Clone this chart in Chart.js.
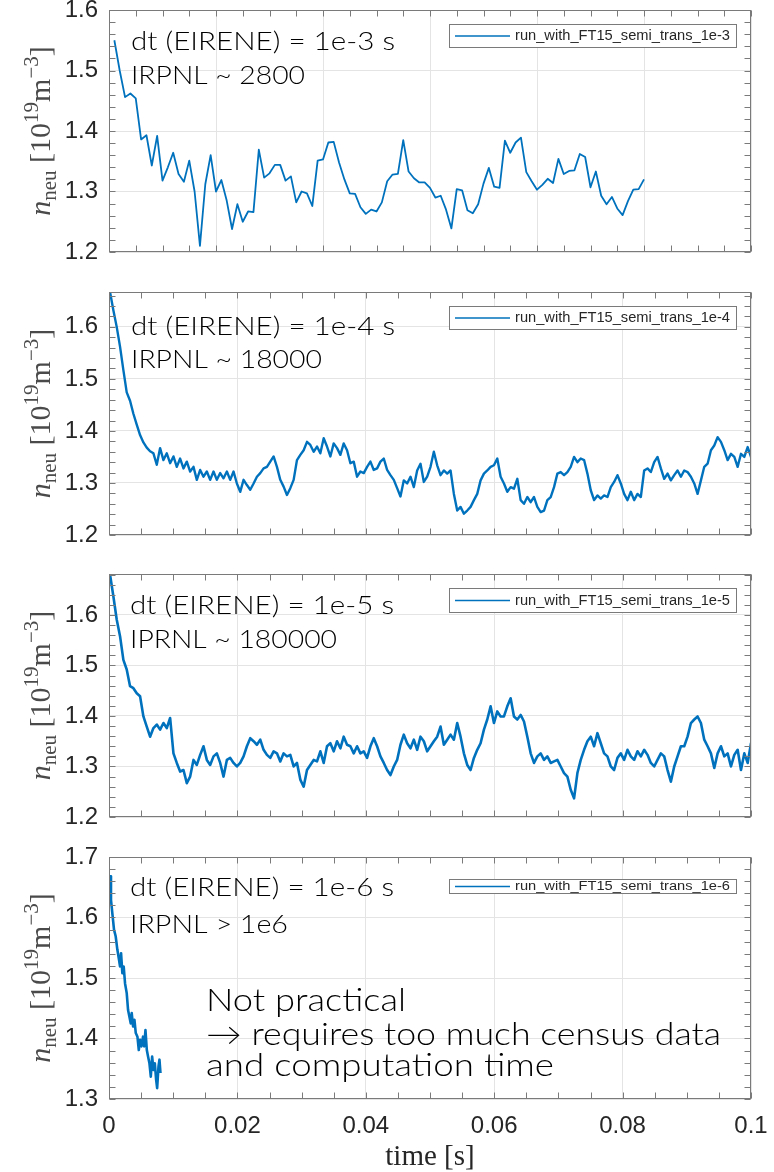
<!DOCTYPE html>
<html>
<head>
<meta charset="utf-8">
<title>n_neu vs time, EIRENE time step scan</title>
<script src="https://cdn.jsdelivr.net/npm/chart.js@4.4.1/dist/chart.umd.min.js"></script>
<style>
  html, body { margin: 0; padding: 0; background: #fff; }
  #wrap { position: relative; width: 774px; height: 1172px; }
  canvas { position: absolute; left: 0; }
</style>
</head>
<body>
<div id="wrap">
  <canvas id="run1e3" width="774" height="280" style="top:0"></canvas>
  <canvas id="run1e4" width="774" height="280" style="top:280px"></canvas>
  <canvas id="run1e5" width="774" height="280" style="top:560px"></canvas>
  <canvas id="run1e6" width="774" height="332" style="top:840px"></canvas>
</div>
<script>
'use strict';

// ---- data -------------------------------------------------------------

var runLabels = [
  'run_with_FT15_semi_trans_1e-3',
  'run_with_FT15_semi_trans_1e-4',
  'run_with_FT15_semi_trans_1e-5',
  'run_with_FT15_semi_trans_1e-6'
];

// dt = 1e-3 s, one value per ms starting at t = 1 ms
var nNeu1e3 = [
  1.550, 1.500, 1.456, 1.462, 1.454, 1.386, 1.393, 1.343, 1.392, 1.318,
  1.340, 1.364, 1.329, 1.316, 1.351, 1.300, 1.210, 1.312, 1.360, 1.300,
  1.319, 1.285, 1.238, 1.279, 1.250, 1.267, 1.266, 1.369, 1.323, 1.330,
  1.344, 1.344, 1.318, 1.325, 1.282, 1.300, 1.297, 1.276, 1.351, 1.353,
  1.381, 1.382, 1.348, 1.320, 1.297, 1.296, 1.274, 1.263, 1.270, 1.267,
  1.282, 1.317, 1.328, 1.329, 1.385, 1.333, 1.322, 1.315, 1.315, 1.306,
  1.290, 1.293, 1.270, 1.239, 1.304, 1.302, 1.269, 1.264, 1.279, 1.313,
  1.339, 1.308, 1.306, 1.384, 1.364, 1.381, 1.389, 1.332, 1.317, 1.303,
  1.311, 1.321, 1.314, 1.354, 1.329, 1.334, 1.335, 1.362, 1.357, 1.307,
  1.333, 1.293, 1.279, 1.291, 1.272, 1.261, 1.284, 1.303, 1.304, 1.320
];

// dt = 1e-4 s, thinned to one value every 0.52 ms
var nNeu1e4 = [
  1.667, 1.632, 1.600, 1.562, 1.517, 1.474, 1.458, 1.433, 1.412, 1.392,
  1.378, 1.368, 1.361, 1.357, 1.335, 1.367, 1.344, 1.357, 1.338, 1.351,
  1.331, 1.347, 1.328, 1.341, 1.322, 1.331, 1.306, 1.325, 1.312, 1.322,
  1.306, 1.322, 1.306, 1.319, 1.309, 1.322, 1.306, 1.322, 1.299, 1.283,
  1.306, 1.296, 1.287, 1.299, 1.312, 1.319, 1.328, 1.331, 1.341, 1.351,
  1.331, 1.306, 1.293, 1.277, 1.290, 1.306, 1.344, 1.354, 1.363, 1.379,
  1.373, 1.360, 1.370, 1.357, 1.386, 1.370, 1.351, 1.376, 1.367, 1.354,
  1.376, 1.363, 1.338, 1.341, 1.312, 1.322, 1.319, 1.331, 1.341, 1.325,
  1.328, 1.341, 1.347, 1.325, 1.315, 1.306, 1.290, 1.274,
  1.305, 1.299, 1.312, 1.292, 1.324, 1.337, 1.302, 1.312, 1.331, 1.360,
  1.334, 1.315, 1.324, 1.318, 1.324, 1.279, 1.247, 1.254, 1.241, 1.247,
  1.254, 1.267, 1.279, 1.305, 1.318, 1.324, 1.331, 1.334, 1.347, 1.312,
  1.299, 1.283, 1.292, 1.289, 1.308, 1.267, 1.260, 1.273, 1.263, 1.273,
  1.254, 1.244, 1.247, 1.267, 1.273, 1.292, 1.318, 1.321, 1.315, 1.321,
  1.331, 1.350, 1.340, 1.347, 1.344, 1.318, 1.286, 1.267, 1.276, 1.270,
  1.276, 1.273, 1.292, 1.302, 1.315, 1.299, 1.279, 1.267, 1.283, 1.267,
  1.279, 1.273, 1.324, 1.328, 1.321, 1.340, 1.350, 1.328, 1.308, 1.318,
  1.305, 1.315, 1.324, 1.312, 1.324, 1.321, 1.312, 1.299, 1.279, 1.305,
  1.331, 1.337, 1.363, 1.372, 1.388, 1.379, 1.363, 1.344, 1.356, 1.350,
  1.331, 1.356, 1.350, 1.369, 1.350, 1.321
];

// dt = 1e-5 s, same thinning as above
var nNeu1e5 = [
  1.680, 1.637, 1.591, 1.558, 1.511, 1.492, 1.459, 1.455, 1.445, 1.439,
  1.399, 1.379, 1.359, 1.376, 1.383, 1.373, 1.386, 1.376, 1.396, 1.326,
  1.307, 1.290, 1.293, 1.267, 1.280, 1.313, 1.303, 1.323, 1.340, 1.313,
  1.303, 1.320, 1.326, 1.307, 1.280, 1.313, 1.317, 1.307, 1.300, 1.307,
  1.320, 1.340, 1.356, 1.350, 1.343, 1.353, 1.333, 1.323, 1.317, 1.330,
  1.326, 1.310, 1.326, 1.320, 1.323, 1.300, 1.307, 1.274, 1.260, 1.293,
  1.303, 1.313, 1.310, 1.330, 1.307, 1.340, 1.346, 1.330, 1.350, 1.336,
  1.359, 1.343, 1.340, 1.326, 1.340, 1.326, 1.330, 1.317, 1.340, 1.356,
  1.340, 1.320, 1.307, 1.293, 1.283, 1.300, 1.313, 1.343,
  1.363, 1.346, 1.336, 1.353, 1.333, 1.359, 1.350, 1.330, 1.340, 1.350,
  1.359, 1.379, 1.343, 1.353, 1.363, 1.353, 1.386, 1.359, 1.326, 1.303,
  1.293, 1.317, 1.333, 1.346, 1.373, 1.393, 1.419, 1.386, 1.409, 1.399,
  1.399, 1.419, 1.435, 1.399, 1.393, 1.402, 1.389, 1.359, 1.326, 1.307,
  1.320, 1.326, 1.313, 1.320, 1.307, 1.310, 1.313, 1.300, 1.287, 1.280,
  1.254, 1.237, 1.287, 1.313, 1.333, 1.350, 1.359, 1.340, 1.366, 1.346,
  1.326, 1.320, 1.300, 1.293, 1.317, 1.326, 1.313, 1.333, 1.320, 1.313,
  1.330, 1.320, 1.333, 1.323, 1.307, 1.300, 1.313, 1.326, 1.320, 1.293,
  1.270, 1.300, 1.320, 1.340, 1.340, 1.359, 1.386, 1.393, 1.399, 1.386,
  1.353, 1.340, 1.326, 1.297, 1.326, 1.340, 1.320, 1.326, 1.300, 1.323,
  1.333, 1.293, 1.326, 1.307, 1.346, 1.333
];

// dt = 1e-6 s, the run stops after ~8 ms
var time1e6 = [
  0, 0.00016, 0.00031, 0.00057, 0.00078, 0.00104, 0.0013, 0.00156, 0.00172, 0.00188,
  0.00208, 0.00229, 0.0025, 0.00276, 0.00297, 0.00318, 0.00339, 0.00354, 0.00375, 0.00396,
  0.00417, 0.00443, 0.00464, 0.00484, 0.00505, 0.0053, 0.00547, 0.00568, 0.00589, 0.00609,
  0.0063, 0.00651, 0.00672, 0.00693, 0.00714, 0.00734, 0.0075, 0.00771, 0.00786, 0.00802
];
var nNeu1e6 = [
  1.662, 1.668, 1.629, 1.602, 1.580, 1.569, 1.547, 1.530, 1.519, 1.541,
  1.508, 1.519, 1.491, 1.475, 1.447, 1.436, 1.425, 1.442, 1.420, 1.431,
  1.409, 1.403, 1.381, 1.398, 1.387, 1.403, 1.387, 1.414, 1.381, 1.370,
  1.359, 1.337, 1.370, 1.348, 1.359, 1.332, 1.318, 1.354, 1.365, 1.343
];

// ---- helpers ----------------------------------------------------------

var BLUE = '#0072BD';
var EDGE = '#7a7a7a';
var GRID = '#e4e4e4';
var TEXT = '#262626';
var SANS = '"Liberation Sans", Arial, sans-serif';
var SERIF = '"Liberation Serif", "Times New Roman", serif';
var NOTE_FONT = '300 {size}px Lato, "Open Sans", sans-serif';

function uniform(values, t0, dt) {
  return values.map(function (v, i) { return { x: t0 + i * dt, y: v }; });
}

function paired(times, values) {
  return values.map(function (v, i) { return { x: times[i], y: v }; });
}

// draw text squeezed/stretched horizontally to a given width
function fitText(ctx, text, x, y, width) {
  var w = ctx.measureText(text).width;
  ctx.save();
  ctx.translate(x, y);
  ctx.scale(width / w, 1);
  ctx.fillText(text, 0, 0);
  ctx.restore();
}

function stepsIn(min, max, step) {
  var out = [];
  var first = Math.ceil(min / step - 1e-6);
  for (var k = first; k * step <= max + 1e-9; k++) out.push(k * step);
  return out;
}

// closed box with inward ticks on all four sides
function boxTicks(xMinor, yMinor) {
  return {
    id: 'boxTicks',
    afterDraw: function (chart) {
      var ctx = chart.ctx, a = chart.chartArea;
      var xs = chart.scales.x, ys = chart.scales.y;
      var len = 6;
      var l = Math.round(a.left) + 0.5, r = Math.round(a.right) - 0.5;
      var t = Math.round(a.top) + 0.5, b = Math.round(a.bottom) - 0.5;
      ctx.save();
      ctx.strokeStyle = EDGE;
      ctx.lineWidth = 1;
      ctx.beginPath();
      stepsIn(xs.min, xs.max, xMinor).forEach(function (v) {
        var px = Math.round(xs.getPixelForValue(v)) + 0.5;
        ctx.moveTo(px, b); ctx.lineTo(px, b - len);
        ctx.moveTo(px, t); ctx.lineTo(px, t + len);
      });
      stepsIn(ys.min, ys.max, yMinor).forEach(function (v) {
        var py = Math.round(ys.getPixelForValue(v)) + 0.5;
        ctx.moveTo(l, py); ctx.lineTo(l + len, py);
        ctx.moveTo(r, py); ctx.lineTo(r - len, py);
      });
      ctx.stroke();
      ctx.strokeRect(l, t, r - l, b - t);
      ctx.restore();
    }
  };
}

// rotated  n_neu [10^19 m^-3]  to the left of the y axis
var unitLabel = {
  id: 'unitLabel',
  afterDraw: function (chart) {
    var ctx = chart.ctx, a = chart.chartArea;
    var big = 30, small = 21;
    var parts = [
      { t: 'n', f: 'italic ' + big + 'px ' + SERIF, dy: 0 },
      { t: 'neu', f: small + 'px ' + SERIF, dy: 6 },
      { t: ' [10', f: big + 'px ' + SERIF, dy: 0 },
      { t: '19', f: small + 'px ' + SERIF, dy: -12 },
      { t: 'm', f: big + 'px ' + SERIF, dy: 0 },
      { t: '\u22123', f: small + 'px ' + SERIF, dy: -12 },
      { t: ']', f: big + 'px ' + SERIF, dy: 0 }
    ];
    ctx.save();
    var total = 0;
    parts.forEach(function (p) { ctx.font = p.f; p.w = ctx.measureText(p.t).width; total += p.w; });
    ctx.translate(50, (a.top + a.bottom) / 2);
    ctx.rotate(-Math.PI / 2);
    ctx.fillStyle = '#4a4a4a';
    ctx.textBaseline = 'alphabetic';
    var x = -total / 2;
    parts.forEach(function (p) {
      ctx.font = p.f;
      ctx.fillText(p.t, x, p.dy);
      x += p.w;
    });
    ctx.restore();
  }
};

// boxed legend in the upper right corner of the plot
function legendBox(g) {
  return {
    id: 'legendBox',
    afterDraw: function (chart) {
      var ctx = chart.ctx, a = chart.chartArea;
      var right = Math.round(a.right - g.right), top = Math.round(a.top + g.top);
      var left = right - g.width;
      var mid = top + g.height / 2;
      ctx.save();
      ctx.fillStyle = '#fff';
      ctx.fillRect(left, top, g.width, g.height);
      ctx.strokeStyle = EDGE;
      ctx.lineWidth = 1;
      ctx.strokeRect(left + 0.5, top + 0.5, g.width, g.height);
      ctx.strokeStyle = BLUE;
      ctx.lineWidth = 1.5;
      ctx.beginPath();
      ctx.moveTo(left + 6, mid + 0.5);
      ctx.lineTo(left + 61, mid + 0.5);
      ctx.stroke();
      ctx.fillStyle = TEXT;
      ctx.font = g.font + 'px ' + SANS;
      ctx.textBaseline = 'middle';
      fitText(ctx, chart.data.datasets[0].label, left + 66, mid + 1, g.width - 72);
      ctx.restore();
    }
  };
}

// free text written onto the plot, offsets from the plot's top-left corner
function notes(lines) {
  return {
    id: 'notes',
    afterDraw: function (chart) {
      var ctx = chart.ctx, a = chart.chartArea;
      ctx.save();
      ctx.fillStyle = '#000';
      ctx.textBaseline = 'alphabetic';
      lines.forEach(function (n) {
        ctx.font = NOTE_FONT.replace('{size}', n.size);
        fitText(ctx, n.text, a.left + n.dx, a.top + n.dy, n.w);
      });
      ctx.restore();
    }
  };
}

function makeChart(id, c) {
  return new Chart(document.getElementById(id), {
    type: 'line',
    data: {
      datasets: [{
        label: c.label,
        data: c.points,
        borderColor: BLUE,
        borderWidth: c.lineWidth,
        borderJoinStyle: 'round',
        pointRadius: 0,
        tension: 0,
        fill: false
      }]
    },
    options: {
      responsive: false,
      animation: false,
      devicePixelRatio: 1,
      events: [],
      layout: { padding: { top: c.top, right: 23, bottom: 0, left: 0 } },
      plugins: { legend: { display: false }, tooltip: { enabled: false } },
      scales: {
        x: {
          type: 'linear',
          min: 0,
          max: c.xMax,
          border: { display: false },
          grid: { color: GRID, drawTicks: false },
          ticks: {
            display: c.xLabels,
            stepSize: 0.02,
            padding: 13,
            color: TEXT,
            font: { family: SANS, size: 24 },
            callback: function (v) { return String(+v.toFixed(3)); }
          },
          title: {
            display: c.xLabels,
            text: 'time [s]',
            color: TEXT,
            font: { family: SERIF, size: 29, lineHeight: 1 },
            padding: { top: 0, bottom: 0 }
          },
          afterFit: function (s) { s.height = c.xHeight; s.paddingLeft = 0; s.paddingRight = 0; }
        },
        y: {
          min: c.yMin,
          max: c.yMax,
          border: { display: false },
          grid: { color: GRID, drawTicks: false },
          ticks: {
            stepSize: 0.1,
            includeBounds: false,
            padding: 11,
            color: TEXT,
            font: { family: SANS, size: 24 },
            callback: function (v) { return v.toFixed(1); }
          },
          afterFit: function (s) { s.width = 109; s.paddingTop = 0; s.paddingBottom = 0; }
        }
      }
    },
    plugins: [boxTicks(0.005, 0.02), unitLabel, legendBox(c.legend), notes(c.notes)]
  });
}

// ---- the four runs ----------------------------------------------------

makeChart('run1e3', {
  label: runLabels[0],
  points: uniform(nNeu1e3, 0.001, 0.001),
  lineWidth: 1.8,
  top: 10, xHeight: 28, xMax: 0.12, xLabels: false, yMin: 1.2, yMax: 1.6,
  legend: { right: 15, top: 14, width: 287, height: 23, font: 14 },
  notes: [
    { text: 'dt (EIRENE) = 1e-3 s', dx: 22, dy: 40, w: 264, size: 25 },
    { text: 'IRPNL ~ 2800', dx: 22, dy: 74, w: 174, size: 25 }
  ]
});

makeChart('run1e4', {
  label: runLabels[1],
  points: uniform(nNeu1e4, 0.00016, 0.00052),
  lineWidth: 2.4,
  top: 12, xHeight: 25, xMax: 0.1, xLabels: false, yMin: 1.2, yMax: 1.667,
  legend: { right: 15, top: 14, width: 287, height: 23, font: 14 },
  notes: [
    { text: 'dt (EIRENE) = 1e-4 s', dx: 22, dy: 43, w: 264, size: 25 },
    { text: 'IRPNL ~ 18000', dx: 22, dy: 76, w: 191, size: 25 }
  ]
});

makeChart('run1e5', {
  label: runLabels[2],
  points: uniform(nNeu1e5, 0.00016, 0.00052),
  lineWidth: 2.6,
  top: 14, xHeight: 23, xMax: 0.1, xLabels: false, yMin: 1.2, yMax: 1.681,
  legend: { right: 15, top: 14, width: 287, height: 24, font: 14 },
  notes: [
    { text: 'dt (EIRENE) = 1e-5 s', dx: 21, dy: 40, w: 264, size: 25 },
    { text: 'IPRNL ~ 180000', dx: 21, dy: 74, w: 207, size: 25 }
  ]
});

makeChart('run1e6', {
  label: runLabels[3],
  points: paired(time1e6, nNeu1e6),
  lineWidth: 2.6,
  top: 17, xHeight: 73, xMax: 0.1, xLabels: true, yMin: 1.3, yMax: 1.7,
  legend: { right: 15, top: 22, width: 287, height: 14, font: 12 },
  notes: [
    { text: 'dt (EIRENE) = 1e-6 s', dx: 21, dy: 39, w: 264, size: 25 },
    { text: 'IRPNL > 1e6', dx: 21, dy: 76, w: 158, size: 25 },
    { text: 'Not practical', dx: 97, dy: 154, w: 200, size: 31 },
    { text: '\u2192 requires too much census data', dx: 97, dy: 188, w: 515, size: 31 },
    { text: 'and computation time', dx: 97, dy: 219, w: 348, size: 31 }
  ]
});
</script>
</body>
</html>
